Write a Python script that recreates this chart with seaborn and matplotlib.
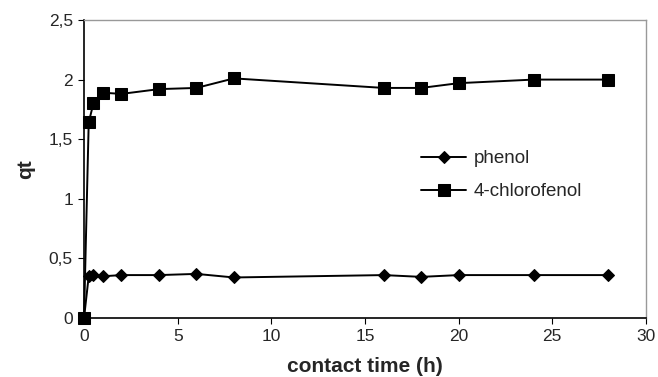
import numpy as np
import pandas as pd
import seaborn as sns
import matplotlib.pyplot as plt

# data
time_h = [0, 0.25, 0.5, 1, 2, 4, 6, 8, 16, 18, 20, 24, 28]
phenol = [0, 0.35, 0.36, 0.35, 0.36, 0.36, 0.37, 0.34, 0.36, 0.345, 0.36, 0.36, 0.36]
chlorofenol = [0, 1.64, 1.80, 1.89, 1.88, 1.92, 1.93, 2.01, 1.93, 1.93, 1.97, 2.00, 2.00]
y_ticks = [0, 0.5, 1, 1.5, 2, 2.5]
y_labels = ['0', '0,5', '1', '1,5', '2', '2,5']

df = pd.DataFrame({'time': time_h, 'phenol': phenol, '4-chlorofenol': chlorofenol})
long_df = df.melt(id_vars='time', var_name='compound', value_name='qt')

sns.set_style('white')
plt.rcParams['font.family'] = ['Liberation Sans', 'DejaVu Sans']

fig = plt.figure(figsize=(6.58, 3.77), dpi=100)
ax = fig.add_axes([0.1277, 0.1565, 0.854, 0.7905])

sns.lineplot(
    data=long_df, x='time', y='qt', style='compound',
    markers={'phenol': 'D', '4-chlorofenol': 's'},
    dashes=False, color='black', linewidth=1.4,
    markersize=8, markeredgecolor='black', ax=ax
)
# diamond a bit smaller than square, markers not clipped at the axes edge
for line in ax.lines:
    line.set_clip_on(False)
    if line.get_marker() == 'D':
        line.set_markersize(6.5)

ax.set_xlim(0, 30)
ax.set_ylim(0, 2.5)
ax.set_xticks(range(0, 31, 5))
ax.set_yticks(y_ticks)
ax.set_yticklabels(y_labels)
ax.tick_params(axis='both', labelsize=12.5, length=4, direction='out',
               bottom=True, left=True, color='black', pad=4)
ax.set_xlabel('contact time (h)', fontsize=15, fontweight='bold', labelpad=9)
ax.set_ylabel('qt', fontsize=15, fontweight='bold', labelpad=10)

for side in ['left', 'bottom']:
    ax.spines[side].set_color('black')
    ax.spines[side].set_linewidth(1.2)
for side in ['top', 'right']:
    ax.spines[side].set_color('#999999')
    ax.spines[side].set_linewidth(1.0)

handles, labels = ax.get_legend_handles_labels()
ax.legend(handles, labels, loc='upper left', bbox_to_anchor=(0.57, 0.62),
          frameon=False, fontsize=13.5, handlelength=2.4, handletextpad=0.4,
          labelspacing=0.85)

fig.savefig('out.png', dpi=100)
